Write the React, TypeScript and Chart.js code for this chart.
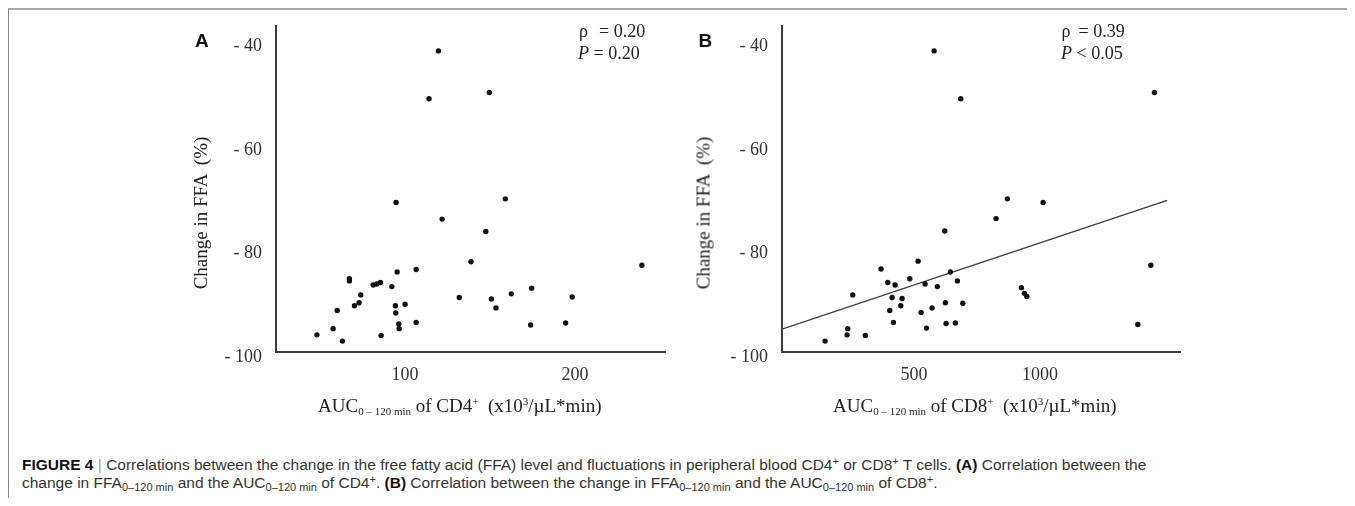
import React, { useEffect, useRef } from "react";
import { Chart, registerables } from "chart.js";

Chart.register(...registerables);

// ---------- data ----------
// Panel A: AUC(0-120 min) of CD4+ vs change in FFA (%)
const cd4Auc = [119.6, 114.1, 149.6, 94.7, 159, 121.8, 147.5, 138.8, 239.4, 106.5, 95.3, 67.2, 67.2, 85.5, 83.4, 81.2, 92.2, 174.5, 73.9, 162.5, 131.9, 150.8, 198.4, 72.9, 70.2, 94.3, 100, 60, 153.5, 94.5, 106.5, 96.3, 96.5, 173.9, 194.5, 57.6, 48.1, 85.9, 63.1];
const ffaChangeA = [-42.0, -51.2, -50.0, -71.2, -70.5, -74.4, -76.8, -82.6, -83.3, -84.1, -84.6, -85.9, -86.3, -86.6, -86.9, -87.1, -87.4, -87.7, -89.0, -88.8, -89.5, -89.8, -89.4, -90.5, -91.1, -91.1, -90.8, -92.0, -91.5, -92.5, -94.3, -94.6, -95.5, -94.8, -94.4, -95.5, -96.7, -96.8, -97.9];

// Panel B: AUC(0-120 min) of CD8+ vs change in FFA (%)
const cd8Auc = [579.4, 685.3, 1453.6, 870.2, 1011.9, 825.4, 621.8, 515.9, 1439.3, 369, 644, 482.9, 671.8, 395.6, 424.6, 543.7, 592.5, 925.8, 256.7, 937.7, 947.2, 412.7, 452.4, 624.2, 693.3, 447.2, 571.4, 403.6, 527.8, 417.9, 627, 663.9, 548.8, 1387.7, 236.9, 234.1, 306.7, 146.8];
const ffaChangeB = [-42.0, -51.2, -50.0, -70.5, -71.2, -74.3, -76.7, -82.5, -83.3, -84.0, -84.6, -85.9, -86.3, -86.6, -87.1, -86.9, -87.4, -87.6, -89.0, -88.7, -89.3, -89.5, -89.7, -90.5, -90.6, -91.1, -91.5, -92.0, -92.4, -94.3, -94.5, -94.4, -95.4, -94.7, -95.5, -96.7, -96.8, -97.9];

// Regression line (panel B)
const regressionX = [-24, 1504];
const regressionY = [-95.6, -70.8];

// Tick labels
const yTickValues = [-40, -60, -80, -100];
const xTicksA = [100, 200];
const xTicksB = [500, 1000];

const SERIF = "'Liberation Serif', 'Times New Roman', serif";
const SANS = "'Liberation Sans', Arial, sans-serif";
const OFF = 8; // body margin

type PanelProps = {
  left: number; top: number; width: number; height: number;
  yAxisW: number; xAxisH: number; padTop: number; padRight: number;
  xMin: number; xMax: number; xTicks: number[];
  xs: number[]; ys: number[];
  regX?: number[]; regY?: number[];
};

function Panel(p: PanelProps) {
  const ref = useRef<HTMLCanvasElement | null>(null);
  useEffect(() => {
    if (!ref.current) return;
    const datasets: any[] = [
      {
        data: p.xs.map((x, i) => ({ x, y: p.ys[i] })),
        pointRadius: 2.7,
        pointBackgroundColor: "#111",
        pointBorderWidth: 0,
        showLine: false,
      },
    ];
    if (p.regX && p.regY) {
      datasets.push({
        data: p.regX.map((x, i) => ({ x, y: p.regY![i] })),
        showLine: true,
        borderColor: "#3a3a3a",
        borderWidth: 1.3,
        pointRadius: 0,
      });
    }
    const tickFont = { family: SERIF, size: 18 };
    const chart = new Chart(ref.current, {
      type: "scatter",
      data: { datasets },
      options: {
        animation: false,
        responsive: false,
        maintainAspectRatio: false,
        layout: { padding: { left: 0, top: p.padTop, right: p.padRight, bottom: 0 } },
        plugins: { legend: { display: false }, tooltip: { enabled: false } },
        scales: {
          x: {
            type: "linear",
            min: p.xMin,
            max: p.xMax,
            grid: { display: false, drawTicks: false },
            border: { display: true, color: "#3c3c3c", width: 2 },
            ticks: {
              font: tickFont, color: "#333", padding: 12, maxRotation: 0,
              callback: (v: any) => String(v),
            },
            afterBuildTicks: (s: any) => { s.ticks = p.xTicks.map((v) => ({ value: v })); },
            afterFit: (s: any) => {
              s.height = p.xAxisH;
              s.paddingLeft = 0; s.paddingRight = 0; s.paddingTop = 0; s.paddingBottom = 0;
            },
          },
          y: {
            type: "linear",
            min: -100,
            max: -37.2,
            grid: { display: false, drawTicks: false },
            border: { display: true, color: "#3c3c3c", width: 2 },
            ticks: {
              font: tickFont,
              color: "#333",
              padding: 14,
              labelOffset: 5.5,
              callback: (v: any) => "- " + Math.abs(Number(v)),
            },
            afterBuildTicks: (s: any) => { s.ticks = yTickValues.map((v) => ({ value: v })); },
            afterFit: (s: any) => {
              s.width = p.yAxisW;
              s.paddingLeft = 0; s.paddingRight = 0; s.paddingTop = 0; s.paddingBottom = 0;
            },
          },
        },
      } as any,
    });
    return () => chart.destroy();
  }, []);
  return (
    <canvas
      ref={ref}
      width={p.width}
      height={p.height}
      style={{ position: "absolute", left: p.left - OFF, top: p.top - OFF, width: p.width, height: p.height }}
    />
  );
}

function Txt(props: {
  x: number; base: number; size: number; family?: string; weight?: any; italic?: boolean;
  color?: string; children: any; spacing?: number;
}) {
  const fam = props.family || SERIF;
  const k = fam === SANS ? 0.8465 : 0.8375;
  return (
    <div
      style={{
        position: "absolute",
        left: props.x - OFF,
        top: props.base - k * props.size - OFF,
        fontFamily: fam,
        fontSize: props.size,
        lineHeight: props.size + "px",
        fontWeight: props.weight || "normal",
        fontStyle: props.italic ? "italic" : "normal",
        color: props.color || "#222",
        whiteSpace: "pre",
        letterSpacing: props.spacing ? props.spacing + "px" : undefined,
      }}
    >
      {props.children}
    </div>
  );
}

const subS: React.CSSProperties = { fontSize: 11, position: "relative", top: 3 };
const supS: React.CSSProperties = { fontSize: 11, position: "relative", top: -7 };
const capSub: React.CSSProperties = { fontSize: 11, position: "relative", top: 3 };
const capSup: React.CSSProperties = { fontSize: 11, position: "relative", top: -5 };

function XTitle({ x, cell }: { x: number; cell: string }) {
  return (
    <Txt x={x} base={411.5} size={19}>
      AUC<span style={subS}>0 – 120 min</span> of {cell}<span style={supS}>+</span>{"  "}(x10<span style={supS}>3</span>/µL*min)
    </Txt>
  );
}

function YTitle({ cx }: { cx: number }) {
  return (
    <div
      style={{
        position: "absolute",
        left: cx - OFF,
        top: 212.5 - OFF,
        transform: "translate(-50%, -50%) rotate(-90deg)",
        fontFamily: SERIF,
        fontSize: 19,
        lineHeight: "19px",
        color: "#222",
        whiteSpace: "pre",
      }}
    >
      Change in FFA  (%)
    </div>
  );
}

export default function App() {
  useEffect(() => {
    document.documentElement.style.overflow = "hidden";
    document.body.style.overflow = "hidden";
  }, []);
  return (
    <div style={{ position: "relative", width: 1339, height: 490 }}>
      <div
        style={{
          position: "absolute",
          left: 0,
          top: 0,
          width: 1347,
          height: 498,
          boxSizing: "border-box",
          borderTop: "2px solid #a9a9a9",
          borderLeft: "1px solid #8a8a8a",
          borderRight: "1px solid #e6e6e6",
        }}
      />
      <Panel
        left={180} top={12} width={510} height={413}
        yAxisW={96} xAxisH={73} padTop={14} padRight={25}
        xMin={24} xMax={253} xTicks={xTicksA}
        xs={cd4Auc} ys={ffaChangeA}
      />
      <Panel
        left={686} top={12} width={514} height={413}
        yAxisW={96} xAxisH={73} padTop={14} padRight={20}
        xMin={-24} xMax={1555} xTicks={xTicksB}
        xs={cd8Auc} ys={ffaChangeB}
        regX={regressionX} regY={regressionY}
      />

      {/* panel letters */}
      <Txt x={195} base={46.7} size={19} family={SANS} weight="bold" color="#111">A</Txt>
      <Txt x={698.5} base={46.7} size={19} family={SANS} weight="bold" color="#111">B</Txt>

      {/* statistics */}
      <Txt x={579} base={37.3} size={18}>ρ</Txt>
      <Txt x={599} base={37.3} size={18}>= 0.20</Txt>
      <Txt x={578} base={59.3} size={18}><i>P</i> = 0.20</Txt>
      <Txt x={1061.5} base={37.3} size={18}>ρ</Txt>
      <Txt x={1078.5} base={37.3} size={18}>= 0.39</Txt>
      <Txt x={1061} base={59.3} size={18}><i>P</i> &lt; 0.05</Txt>

      {/* axis titles */}
      <YTitle cx={200} />
      <YTitle cx={703} />
      <XTitle x={318} cell="CD4" />
      <XTitle x={833} cell="CD8" />

      {/* caption */}
      <Txt x={22} base={470} size={15.5} family={SANS} color="#333">
        <b style={{ color: "#111" }}>FIGURE 4</b> <span style={{ color: "#999" }}>|</span> Correlations between the change in the free fatty acid (FFA) level and fluctuations in peripheral blood CD4<span style={capSup}>+</span> or CD8<span style={capSup}>+</span> T cells. <b style={{ color: "#111" }}>(A)</b> Correlation between the
      </Txt>
      <Txt x={22} base={488.5} size={15.5} family={SANS} color="#333">
        change in FFA<span style={capSub}>0–120 min</span> and the AUC<span style={capSub}>0–120 min</span> of CD4<span style={capSup}>+</span>. <b style={{ color: "#111" }}>(B)</b> Correlation between the change in FFA<span style={capSub}>0–120 min</span> and the AUC<span style={capSub}>0–120 min</span> of CD8<span style={capSup}>+</span>.
      </Txt>
    </div>
  );
}
